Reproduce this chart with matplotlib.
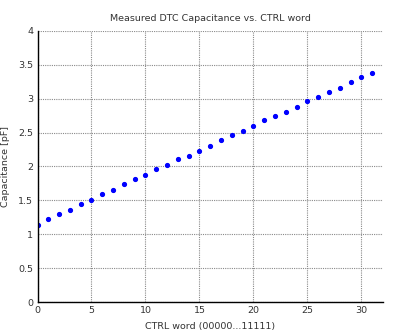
from matplotlib import pyplot as plt
import numpy as np

# measured capacitance for each 5-bit control word
ctrl_word = np.arange(0, 32)
cap_pf = [1.14, 1.22, 1.30, 1.36, 1.45, 1.51, 1.59, 1.65, 1.74, 1.82,
          1.88, 1.96, 2.02, 2.11, 2.16, 2.23, 2.30, 2.39, 2.46, 2.53,
          2.60, 2.68, 2.74, 2.81, 2.88, 2.96, 3.03, 3.10, 3.16, 3.24,
          3.32, 3.38]

xticks = [0, 5, 10, 15, 20, 25, 30]
yticks = [0, 0.5, 1, 1.5, 2, 2.5, 3, 3.5, 4]

f = plt.figure(figsize=(3.99, 3.36), dpi=100)
ax = f.add_axes([0.094, 0.101, 0.866, 0.807])

ax.plot(ctrl_word, cap_pf, marker='.', markersize=5.5, linestyle='None', color='#0000ff')

ax.set_xlim(0, 32)
ax.set_ylim(0, 4)
ax.set_xticks(xticks)
ax.set_yticks(yticks)
ax.set_yticklabels(['0', '0.5', '1', '1.5', '2', '2.5', '3', '3.5', '4'])

ax.grid(True, linestyle=(0, (1, 1)), color='#8a8a8a', linewidth=0.8)
ax.spines['top'].set_visible(False)
ax.spines['right'].set_visible(False)
ax.spines['left'].set_linewidth(1.0)
ax.spines['bottom'].set_linewidth(1.0)
ax.tick_params(length=0, labelsize=6.8, colors='#333333', pad=3)

ax.set_title('Measured DTC Capacitance vs. CTRL word', fontsize=6.8, color='#333333', pad=7)
ax.set_xlabel('CTRL word (00000...11111)', fontsize=6.8, color='#333333', labelpad=5)
ax.set_ylabel('Capacitance [pF]', fontsize=6.8, color='#333333', labelpad=6)

plt.savefig('out.png', dpi=100)
